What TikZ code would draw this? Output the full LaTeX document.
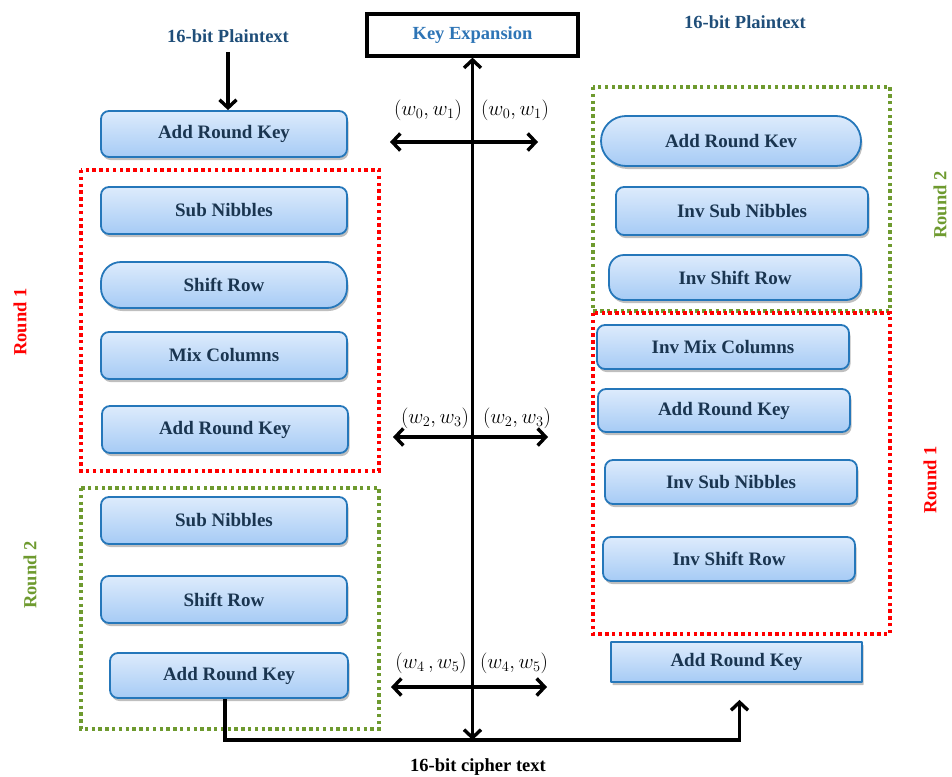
\documentclass[tikz,border=0pt]{standalone}
\usepackage{fontspec}
\setmainfont{Liberation Serif}
\usetikzlibrary{arrows.meta,shadows,calc}
\definecolor{boxborder}{HTML}{2577BA}
\definecolor{boxtop}{HTML}{DDEBFC}
\definecolor{boxbot}{HTML}{A6CBF5}
\definecolor{boxtext}{HTML}{1A3550}
\definecolor{lbltext}{HTML}{1F4E79}
\definecolor{kexptext}{HTML}{2E75B6}
\definecolor{rndred}{HTML}{FF0000}
\definecolor{rndgreen}{HTML}{6E9A2F}
\tikzset{
  blk/.style={draw=boxborder, line width=1.8pt, rounded corners=8pt,
    top color=boxtop, bottom color=boxbot, text=boxtext,
    font=\bfseries\fontsize{19}{21}\selectfont, inner sep=0pt,
    drop shadow={shadow xshift=1.5pt, shadow yshift=-3pt, opacity=0.25, fill=black}},
  lbl/.style={font=\bfseries\fontsize{18.5}{20}\selectfont, text=lbltext, inner sep=0pt},
  rnd/.style={font=\bfseries\fontsize{18.5}{20}\selectfont, rotate=90, inner sep=0pt},
  wlbl/.style={font=\fontsize{20.5}{22}\selectfont, inner sep=0pt},
  dotbox/.style={line width=3.4pt, dash pattern=on 3.4pt off 3.4pt},
  conn/.style={line width=3.4pt, draw=black},
  tip/.tip={Straight Barb[length=8pt,width=17pt]},
}
\begin{document}
\begin{tikzpicture}[x=1pt,y=-1pt]
\useasboundingbox (0,0) rectangle (952,776);
\clip (0,0) rectangle (952,776);

% dotted round frames
\draw[dotbox, rndred] (81,170) rectangle (379,471);
\draw[dotbox, rndgreen] (81,488) rectangle (379,729);
\draw[dotbox, rndgreen] (593,87) rectangle (890,311);
\draw[dotbox, rndred] (593,313) rectangle (890,634);

% round labels
\node[rnd, text=rndred] (r1l) at (20,322) {Round 1};
\node[rnd, text=rndgreen] (r2l) at (30,575) {Round 2};
\node[rnd, text=rndred] (r1r) at (930,480) {Round 1};
\node[rnd, text=rndgreen] (r2r) at (940,205) {Round 2};

% top labels
\node[lbl] (pt1) at (228,36) {16-bit Plaintext};
\node[lbl] (pt2) at (745,22) {16-bit Plaintext};
\node[draw=black, line width=3.2pt, fill=white, minimum width=211pt, minimum height=42pt,
  font=\bfseries\fontsize{18.5}{20}\selectfont, text=kexptext, inner sep=0pt] (kexp) at (472.5,35) {Key Expansion};
\node[font=\bfseries\fontsize{18.5}{20}\selectfont, inner sep=0pt] (ct) at (478,767) {16-bit cipher text};

% left column
\node[blk, minimum width=246pt, minimum height=46pt] (ark1) at (224,134) {Add Round Key};
\node[blk, minimum width=246pt, minimum height=47pt] (sn1) at (224,210.5) {Sub Nibbles};
\node[blk, minimum width=246pt, minimum height=46pt, rounded corners=20pt] (sr1) at (224,285) {Shift Row};
\node[blk, minimum width=246pt, minimum height=47pt] (mc1) at (224,355.5) {Mix Columns};
\node[blk, minimum width=246pt, minimum height=47pt] (ark2) at (225,429.5) {Add Round Key};
\node[blk, minimum width=246pt, minimum height=47pt] (sn2) at (224,520.5) {Sub Nibbles};
\node[blk, minimum width=246pt, minimum height=47pt] (sr2) at (224,599.5) {Shift Row};
\node[blk, minimum width=238pt, minimum height=45pt] (ark3) at (229,675.5) {Add Round Key};

% right column
\node[blk, minimum width=260pt, minimum height=50pt, rounded corners=25pt] (rark1) at (731,141) {Add Round Kev};
\node[blk, minimum width=252pt, minimum height=48pt] (risn1) at (742,211) {Inv Sub Nibbles};
\node[blk, minimum width=252pt, minimum height=45pt, rounded corners=15pt] (risr1) at (735,277.5) {Inv Shift Row};
\node[blk, minimum width=252pt, minimum height=44pt] (rimc) at (723,347) {Inv Mix Columns};
\node[blk, minimum width=252pt, minimum height=43pt] (rark2) at (724,410.5) {Add Round Key};
\node[blk, minimum width=252pt, minimum height=44pt] (risn2) at (731,482) {Inv Sub Nibbles};
\node[blk, minimum width=252pt, minimum height=44pt] (risr2) at (729,559) {Inv Shift Row};
\node[blk, minimum width=251pt, minimum height=40pt, rounded corners=0.5pt] (rark3) at (736.5,662) {Add Round Key};

% key labels
\node[wlbl] (w01l) at (428,110) {$(w_0,w_1)$};
\node[wlbl] (w01r) at (515,110) {$(w_0,w_1)$};
\node[wlbl] (w23l) at (435,418) {$(w_2,w_3)$};
\node[wlbl] (w23r) at (517,418) {$(w_2,w_3)$};
\node[wlbl] (w45l) at (431,663) {$(w_4\,,w_5)$};
\node[wlbl] (w45r) at (514,663) {$(w_4,w_5)$};

% coordinates
\coordinate (spinebot) at (472.5,740);
\coordinate (h1l) at (390,142);
\coordinate (h1r) at (538,142);
\coordinate (h2l) at (393,437);
\coordinate (h2r) at (548,437);
\coordinate (h3l) at (391,687);
\coordinate (h3r) at (547,687);

% connectors
\draw[conn, -{tip}] (pt1.south |- 0,52) -- (pt1.south |- ark1.north);
\draw[conn, {tip}-{tip}] (kexp.south) -- (spinebot);
\draw[conn, {tip}-{tip}] (h1l) -- (h1r);
\draw[conn, {tip}-{tip}] (h2l) -- (h2r);
\draw[conn, {tip}-{tip}] (h3l) -- (h3r);
\draw[conn] ([xshift=-4pt]ark3.south) |- (spinebot);
\draw[conn, -{tip}, shorten >=17pt] (spinebot) -| ([xshift=3pt]rark3.south);
\end{tikzpicture}
\end{document}
